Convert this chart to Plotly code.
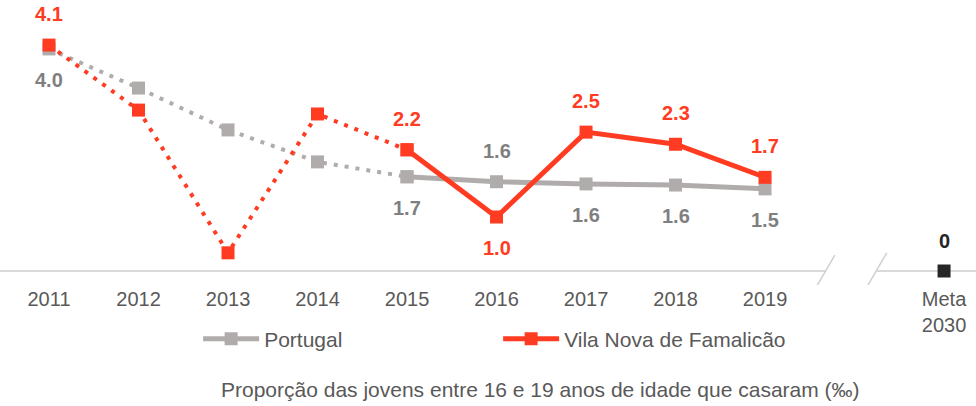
import plotly.graph_objects as go

# Data: proportion of young women aged 16-19 who married (per mille)
years = ["2011", "2012", "2013", "2014", "2015", "2016", "2017", "2018", "2019"]
portugal = [4.03, 3.32, 2.56, 1.98, 1.71, 1.62, 1.58, 1.56, 1.49]
famalicao = [4.1, 2.92, 0.33, 2.85, 2.2, 0.98, 2.52, 2.3, 1.7]
meta_label = "Meta<br>2030"
meta_value = 0

# Which points carry a value label, and whether it sits above (+1) or below (-1)
portugal_labels = {0: -1, 4: -1, 5: 1, 6: -1, 7: -1, 8: -1}
famalicao_labels = {0: 1, 4: 1, 5: -1, 6: 1, 7: 1, 8: 1}

RED = "#FF3B22"
GREY_LINE = "#B0ACAC"
GREY_TEXT = "#7F7F7F"
AXIS_TEXT = "#595959"
FONT = "Arial, Liberation Sans, sans-serif"

xpos = list(range(len(years)))
meta_x = len(years) + 1  # leave one empty slot for the axis break
split = 4  # dotted up to 2015, solid afterwards

fig = go.Figure()


def add_series(name, values, color):
    fig.add_trace(go.Scatter(
        x=xpos[:split + 1], y=values[:split + 1], mode="lines+markers",
        line=dict(color=color, width=4, dash="4px,7px"),
        marker=dict(symbol="square", size=13, color=color),
        showlegend=False, hoverinfo="skip", cliponaxis=False))
    fig.add_trace(go.Scatter(
        x=xpos[split:], y=values[split:], mode="lines+markers", name=name,
        line=dict(color=color, width=5),
        marker=dict(symbol="square", size=13, color=color),
        cliponaxis=False))


add_series("Portugal", portugal, GREY_LINE)
add_series("Vila Nova de Famalicão", famalicao, RED)

# 2030 target
fig.add_trace(go.Scatter(
    x=[meta_x], y=[meta_value], mode="markers", showlegend=False,
    marker=dict(symbol="square", size=13, color="#262626"), cliponaxis=False))

annotations = []
for idx, side in portugal_labels.items():
    annotations.append(dict(x=xpos[idx], y=portugal[idx], text=f"<b>{portugal[idx]:.1f}</b>",
                            showarrow=False, yshift=31 * side,
                            font=dict(size=20, color=GREY_TEXT, family=FONT)))
for idx, side in famalicao_labels.items():
    annotations.append(dict(x=xpos[idx], y=famalicao[idx], text=f"<b>{famalicao[idx]:.1f}</b>",
                            showarrow=False, yshift=31 * side,
                            font=dict(size=20, color=RED, family=FONT)))
annotations.append(dict(x=meta_x, y=meta_value, text=f"<b>{meta_value}</b>", showarrow=False,
                        yshift=30, font=dict(size=20, color="#262626", family=FONT)))
annotations.append(dict(xref="paper", yref="paper", x=0.554, y=-0.368, yanchor="middle",
                        text="Proporção das jovens entre 16 e 19 anos de idade que casaram (‰)",
                        showarrow=False, font=dict(size=21, color=AXIS_TEXT, family=FONT)))

# Baseline with a break between 2019 and the target
x_lo, x_hi = -0.5475, 10.357
shapes = [
    dict(type="line", xref="x", yref="y", x0=x_lo, x1=8.67, y0=0, y1=0,
         line=dict(color="#D9D9D9", width=2), layer="below"),
    dict(type="line", xref="x", yref="y", x0=9.25, x1=x_hi, y0=0, y1=0,
         line=dict(color="#D9D9D9", width=2), layer="below"),
    dict(type="line", xref="x", yref="y", x0=8.78, y0=0.29, x1=8.54, y1=-0.38,
         line=dict(color="#D0D0D0", width=1.5)),
    dict(type="line", xref="x", yref="y", x0=9.36, y0=0.33, x1=9.12, y1=-0.34,
         line=dict(color="#D0D0D0", width=1.5)),
]

fig.update_layout(
    width=976, height=406,
    margin=dict(l=0, r=0, t=0, b=121),
    paper_bgcolor="white", plot_bgcolor="white",
    font=dict(family=FONT, size=20, color=AXIS_TEXT),
    xaxis=dict(range=[x_lo, x_hi], tickvals=xpos + [meta_x], ticktext=years + [meta_label],
               showgrid=False, zeroline=False, showline=False, ticks="",
               tickfont=dict(size=20, color=AXIS_TEXT), fixedrange=True),
    yaxis=dict(range=[-0.254, 4.918], visible=False, fixedrange=True),
    legend=dict(orientation="h", x=0.203, y=-0.19, xanchor="left", yanchor="middle",
                entrywidth=229, itemwidth=56, font=dict(size=21, color=AXIS_TEXT),
                bgcolor="rgba(0,0,0,0)"),
    annotations=annotations,
    shapes=shapes,
    showlegend=True,
)

fig.write_html("out.html")
